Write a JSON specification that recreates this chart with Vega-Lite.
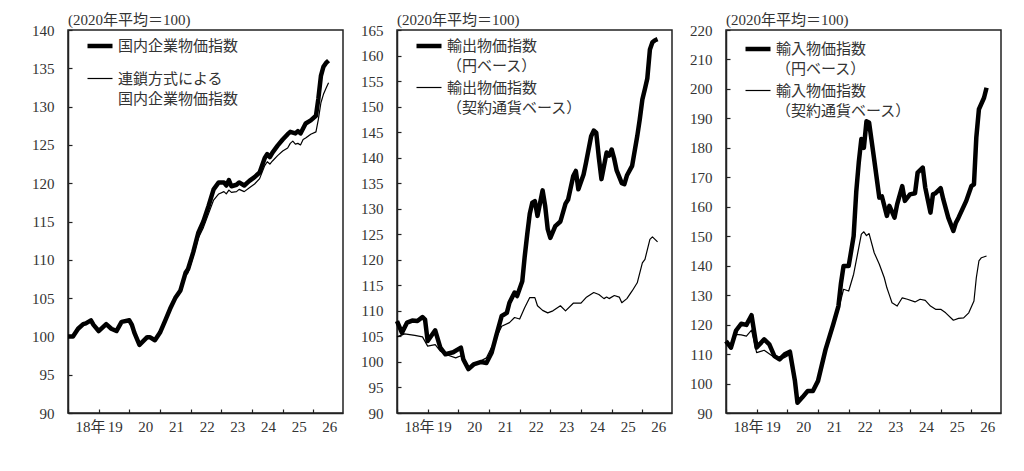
{
  "$schema": "https://vega.github.io/schema/vega-lite/v6.json",
  "background": "white",
  "padding": {"left": 30, "top": 12, "right": 5, "bottom": 5},
  "config": {
    "font": "Liberation Serif, Noto Sans CJK JP",
    "view": {"stroke": "#222", "strokeWidth": 1.5},
    "axis": {
      "grid": false,
      "title": null,
      "domainColor": "#222",
      "domainWidth": 1.5,
      "tickColor": "#222",
      "tickWidth": 1.2,
      "tickSize": -4,
      "labelColor": "#333",
      "labelFont": "Liberation Serif, Noto Sans CJK JP",
      "labelFontSize": 15
    },
    "axisX": {"labelPadding": 10},
    "axisY": {"labelPadding": 18},
    "legend": {
      "title": null,
      "orient": "none",
      "legendX": 17,
      "legendY": 1,
      "symbolType": "stroke",
      "symbolSize": 625,
      "symbolStrokeColor": "black",
      "labelFont": "Liberation Serif, Noto Sans CJK JP",
      "labelFontSize": 15,
      "labelColor": "#333",
      "labelLimit": 300,
      "labelOffset": 3,
      "padding": 0
    },
    "title": {
      "anchor": "start",
      "frame": "group",
      "offset": -5,
      "fontSize": 15,
      "fontWeight": "normal",
      "color": "#333",
      "font": "Liberation Serif, Noto Sans CJK JP"
    },
    "concat": {"spacing": 15}
  },
  "resolve": {
    "scale": {"strokeWidth": "independent", "y": "independent", "x": "independent"},
    "legend": {"strokeWidth": "independent"}
  },
  "datasets": {
    "p1": [
      {"date": "2018-01-01", "series": "国内企業物価指数", "value": 100.0},
      {"date": "2018-03-01", "series": "国内企業物価指数", "value": 100.0},
      {"date": "2018-05-01", "series": "国内企業物価指数", "value": 101.0},
      {"date": "2018-07-01", "series": "国内企業物価指数", "value": 101.6},
      {"date": "2018-08-01", "series": "国内企業物価指数", "value": 101.7},
      {"date": "2018-10-01", "series": "国内企業物価指数", "value": 102.1},
      {"date": "2018-11-01", "series": "国内企業物価指数", "value": 101.5},
      {"date": "2019-01-01", "series": "国内企業物価指数", "value": 100.7},
      {"date": "2019-04-01", "series": "国内企業物価指数", "value": 101.6},
      {"date": "2019-06-01", "series": "国内企業物価指数", "value": 101.0},
      {"date": "2019-08-01", "series": "国内企業物価指数", "value": 100.7},
      {"date": "2019-10-01", "series": "国内企業物価指数", "value": 101.9},
      {"date": "2020-01-01", "series": "国内企業物価指数", "value": 102.1},
      {"date": "2020-02-01", "series": "国内企業物価指数", "value": 101.5},
      {"date": "2020-03-01", "series": "国内企業物価指数", "value": 100.5},
      {"date": "2020-05-01", "series": "国内企業物価指数", "value": 98.9},
      {"date": "2020-08-01", "series": "国内企業物価指数", "value": 99.9},
      {"date": "2020-09-01", "series": "国内企業物価指数", "value": 99.9},
      {"date": "2020-11-01", "series": "国内企業物価指数", "value": 99.5},
      {"date": "2021-01-01", "series": "国内企業物価指数", "value": 100.5},
      {"date": "2021-03-01", "series": "国内企業物価指数", "value": 102.0},
      {"date": "2021-05-01", "series": "国内企業物価指数", "value": 103.6},
      {"date": "2021-07-01", "series": "国内企業物価指数", "value": 105.0},
      {"date": "2021-09-01", "series": "国内企業物価指数", "value": 106.0},
      {"date": "2021-11-01", "series": "国内企業物価指数", "value": 108.3},
      {"date": "2021-12-01", "series": "国内企業物価指数", "value": 108.8},
      {"date": "2022-02-01", "series": "国内企業物価指数", "value": 111.0},
      {"date": "2022-04-01", "series": "国内企業物価指数", "value": 113.5},
      {"date": "2022-06-01", "series": "国内企業物価指数", "value": 115.0},
      {"date": "2022-08-01", "series": "国内企業物価指数", "value": 117.0},
      {"date": "2022-10-01", "series": "国内企業物価指数", "value": 119.2},
      {"date": "2022-12-01", "series": "国内企業物価指数", "value": 120.1},
      {"date": "2023-02-01", "series": "国内企業物価指数", "value": 120.1},
      {"date": "2023-03-01", "series": "国内企業物価指数", "value": 119.7},
      {"date": "2023-04-01", "series": "国内企業物価指数", "value": 120.4},
      {"date": "2023-05-01", "series": "国内企業物価指数", "value": 119.6},
      {"date": "2023-07-01", "series": "国内企業物価指数", "value": 119.8},
      {"date": "2023-08-01", "series": "国内企業物価指数", "value": 120.1},
      {"date": "2023-10-01", "series": "国内企業物価指数", "value": 119.7},
      {"date": "2023-12-01", "series": "国内企業物価指数", "value": 120.3},
      {"date": "2024-02-01", "series": "国内企業物価指数", "value": 120.8},
      {"date": "2024-04-01", "series": "国内企業物価指数", "value": 121.4},
      {"date": "2024-06-01", "series": "国内企業物価指数", "value": 123.3},
      {"date": "2024-07-01", "series": "国内企業物価指数", "value": 123.8},
      {"date": "2024-08-01", "series": "国内企業物価指数", "value": 123.4},
      {"date": "2024-09-01", "series": "国内企業物価指数", "value": 124.0},
      {"date": "2024-11-01", "series": "国内企業物価指数", "value": 124.9},
      {"date": "2025-01-01", "series": "国内企業物価指数", "value": 125.7},
      {"date": "2025-03-01", "series": "国内企業物価指数", "value": 126.4},
      {"date": "2025-04-01", "series": "国内企業物価指数", "value": 126.7},
      {"date": "2025-06-01", "series": "国内企業物価指数", "value": 126.5},
      {"date": "2025-07-01", "series": "国内企業物価指数", "value": 126.8},
      {"date": "2025-08-01", "series": "国内企業物価指数", "value": 126.5},
      {"date": "2025-10-01", "series": "国内企業物価指数", "value": 127.8},
      {"date": "2025-12-01", "series": "国内企業物価指数", "value": 128.2},
      {"date": "2026-02-01", "series": "国内企業物価指数", "value": 128.8},
      {"date": "2026-03-01", "series": "国内企業物価指数", "value": 131.0},
      {"date": "2026-04-01", "series": "国内企業物価指数", "value": 134.0},
      {"date": "2026-05-01", "series": "国内企業物価指数", "value": 135.2},
      {"date": "2026-06-01", "series": "国内企業物価指数", "value": 135.7},
      {"date": "2026-07-01", "series": "国内企業物価指数", "value": 136.0},
      {"date": "2018-01-01", "series": "連鎖方式による|国内企業物価指数", "value": 100.0},
      {"date": "2018-03-01", "series": "連鎖方式による|国内企業物価指数", "value": 100.0},
      {"date": "2018-05-01", "series": "連鎖方式による|国内企業物価指数", "value": 101.0},
      {"date": "2018-07-01", "series": "連鎖方式による|国内企業物価指数", "value": 101.6},
      {"date": "2018-08-01", "series": "連鎖方式による|国内企業物価指数", "value": 101.7},
      {"date": "2018-10-01", "series": "連鎖方式による|国内企業物価指数", "value": 102.1},
      {"date": "2018-11-01", "series": "連鎖方式による|国内企業物価指数", "value": 101.5},
      {"date": "2019-01-01", "series": "連鎖方式による|国内企業物価指数", "value": 100.7},
      {"date": "2019-04-01", "series": "連鎖方式による|国内企業物価指数", "value": 101.6},
      {"date": "2019-06-01", "series": "連鎖方式による|国内企業物価指数", "value": 101.0},
      {"date": "2019-08-01", "series": "連鎖方式による|国内企業物価指数", "value": 100.7},
      {"date": "2019-10-01", "series": "連鎖方式による|国内企業物価指数", "value": 101.9},
      {"date": "2020-01-01", "series": "連鎖方式による|国内企業物価指数", "value": 102.1},
      {"date": "2020-02-01", "series": "連鎖方式による|国内企業物価指数", "value": 101.5},
      {"date": "2020-03-01", "series": "連鎖方式による|国内企業物価指数", "value": 100.5},
      {"date": "2020-05-01", "series": "連鎖方式による|国内企業物価指数", "value": 98.9},
      {"date": "2020-08-01", "series": "連鎖方式による|国内企業物価指数", "value": 99.9},
      {"date": "2020-09-01", "series": "連鎖方式による|国内企業物価指数", "value": 99.9},
      {"date": "2020-11-01", "series": "連鎖方式による|国内企業物価指数", "value": 99.5},
      {"date": "2021-01-01", "series": "連鎖方式による|国内企業物価指数", "value": 100.5},
      {"date": "2021-03-01", "series": "連鎖方式による|国内企業物価指数", "value": 101.9},
      {"date": "2021-05-01", "series": "連鎖方式による|国内企業物価指数", "value": 103.4},
      {"date": "2021-07-01", "series": "連鎖方式による|国内企業物価指数", "value": 104.9},
      {"date": "2021-09-01", "series": "連鎖方式による|国内企業物価指数", "value": 105.8},
      {"date": "2021-11-01", "series": "連鎖方式による|国内企業物価指数", "value": 107.9},
      {"date": "2021-12-01", "series": "連鎖方式による|国内企業物価指数", "value": 108.3},
      {"date": "2022-02-01", "series": "連鎖方式による|国内企業物価指数", "value": 110.5},
      {"date": "2022-04-01", "series": "連鎖方式による|国内企業物価指数", "value": 112.8},
      {"date": "2022-06-01", "series": "連鎖方式による|国内企業物価指数", "value": 114.2},
      {"date": "2022-08-01", "series": "連鎖方式による|国内企業物価指数", "value": 116.0},
      {"date": "2022-10-01", "series": "連鎖方式による|国内企業物価指数", "value": 117.8},
      {"date": "2022-12-01", "series": "連鎖方式による|国内企業物価指数", "value": 118.6},
      {"date": "2023-02-01", "series": "連鎖方式による|国内企業物価指数", "value": 118.9},
      {"date": "2023-03-01", "series": "連鎖方式による|国内企業物価指数", "value": 118.6},
      {"date": "2023-04-01", "series": "連鎖方式による|国内企業物価指数", "value": 119.1},
      {"date": "2023-05-01", "series": "連鎖方式による|国内企業物価指数", "value": 118.8},
      {"date": "2023-07-01", "series": "連鎖方式による|国内企業物価指数", "value": 118.9},
      {"date": "2023-08-01", "series": "連鎖方式による|国内企業物価指数", "value": 119.2},
      {"date": "2023-10-01", "series": "連鎖方式による|国内企業物価指数", "value": 118.9},
      {"date": "2023-12-01", "series": "連鎖方式による|国内企業物価指数", "value": 119.4},
      {"date": "2024-02-01", "series": "連鎖方式による|国内企業物価指数", "value": 119.9},
      {"date": "2024-04-01", "series": "連鎖方式による|国内企業物価指数", "value": 120.6},
      {"date": "2024-06-01", "series": "連鎖方式による|国内企業物価指数", "value": 122.3},
      {"date": "2024-07-01", "series": "連鎖方式による|国内企業物価指数", "value": 122.8},
      {"date": "2024-08-01", "series": "連鎖方式による|国内企業物価指数", "value": 122.5},
      {"date": "2024-09-01", "series": "連鎖方式による|国内企業物価指数", "value": 122.9},
      {"date": "2024-11-01", "series": "連鎖方式による|国内企業物価指数", "value": 123.6},
      {"date": "2025-01-01", "series": "連鎖方式による|国内企業物価指数", "value": 124.2},
      {"date": "2025-03-01", "series": "連鎖方式による|国内企業物価指数", "value": 124.6},
      {"date": "2025-04-01", "series": "連鎖方式による|国内企業物価指数", "value": 125.2},
      {"date": "2025-05-01", "series": "連鎖方式による|国内企業物価指数", "value": 125.5},
      {"date": "2025-06-01", "series": "連鎖方式による|国内企業物価指数", "value": 125.1},
      {"date": "2025-07-01", "series": "連鎖方式による|国内企業物価指数", "value": 125.2},
      {"date": "2025-08-01", "series": "連鎖方式による|国内企業物価指数", "value": 125.0},
      {"date": "2025-09-01", "series": "連鎖方式による|国内企業物価指数", "value": 125.7},
      {"date": "2025-10-01", "series": "連鎖方式による|国内企業物価指数", "value": 125.9},
      {"date": "2025-12-01", "series": "連鎖方式による|国内企業物価指数", "value": 126.4},
      {"date": "2026-02-01", "series": "連鎖方式による|国内企業物価指数", "value": 126.7},
      {"date": "2026-03-01", "series": "連鎖方式による|国内企業物価指数", "value": 128.3},
      {"date": "2026-04-01", "series": "連鎖方式による|国内企業物価指数", "value": 130.5},
      {"date": "2026-05-01", "series": "連鎖方式による|国内企業物価指数", "value": 131.6},
      {"date": "2026-06-01", "series": "連鎖方式による|国内企業物価指数", "value": 132.4},
      {"date": "2026-07-01", "series": "連鎖方式による|国内企業物価指数", "value": 133.1}
    ],
    "p2": [
      {"date": "2018-01-01", "series": "輸出物価指数|（円ベース）", "value": 108.0},
      {"date": "2018-03-01", "series": "輸出物価指数|（円ベース）", "value": 105.7},
      {"date": "2018-05-01", "series": "輸出物価指数|（円ベース）", "value": 107.7},
      {"date": "2018-07-01", "series": "輸出物価指数|（円ベース）", "value": 108.1},
      {"date": "2018-09-01", "series": "輸出物価指数|（円ベース）", "value": 108.0},
      {"date": "2018-11-01", "series": "輸出物価指数|（円ベース）", "value": 108.8},
      {"date": "2018-12-01", "series": "輸出物価指数|（円ベース）", "value": 108.3},
      {"date": "2019-01-01", "series": "輸出物価指数|（円ベース）", "value": 104.1},
      {"date": "2019-04-01", "series": "輸出物価指数|（円ベース）", "value": 106.2},
      {"date": "2019-06-01", "series": "輸出物価指数|（円ベース）", "value": 102.8},
      {"date": "2019-08-01", "series": "輸出物価指数|（円ベース）", "value": 101.5},
      {"date": "2019-11-01", "series": "輸出物価指数|（円ベース）", "value": 101.9},
      {"date": "2020-02-01", "series": "輸出物価指数|（円ベース）", "value": 102.8},
      {"date": "2020-03-01", "series": "輸出物価指数|（円ベース）", "value": 100.5},
      {"date": "2020-05-01", "series": "輸出物価指数|（円ベース）", "value": 98.6},
      {"date": "2020-07-01", "series": "輸出物価指数|（円ベース）", "value": 99.5},
      {"date": "2020-10-01", "series": "輸出物価指数|（円ベース）", "value": 100.0},
      {"date": "2020-12-01", "series": "輸出物価指数|（円ベース）", "value": 99.8},
      {"date": "2021-02-01", "series": "輸出物価指数|（円ベース）", "value": 101.8},
      {"date": "2021-04-01", "series": "輸出物価指数|（円ベース）", "value": 105.4},
      {"date": "2021-06-01", "series": "輸出物価指数|（円ベース）", "value": 109.0},
      {"date": "2021-08-01", "series": "輸出物価指数|（円ベース）", "value": 109.6},
      {"date": "2021-09-01", "series": "輸出物価指数|（円ベース）", "value": 111.6},
      {"date": "2021-11-01", "series": "輸出物価指数|（円ベース）", "value": 113.6},
      {"date": "2021-12-01", "series": "輸出物価指数|（円ベース）", "value": 112.9},
      {"date": "2022-02-01", "series": "輸出物価指数|（円ベース）", "value": 115.8},
      {"date": "2022-03-01", "series": "輸出物価指数|（円ベース）", "value": 120.5},
      {"date": "2022-04-01", "series": "輸出物価指数|（円ベース）", "value": 125.0},
      {"date": "2022-05-01", "series": "輸出物価指数|（円ベース）", "value": 129.0},
      {"date": "2022-06-01", "series": "輸出物価指数|（円ベース）", "value": 131.2},
      {"date": "2022-07-01", "series": "輸出物価指数|（円ベース）", "value": 131.5},
      {"date": "2022-08-01", "series": "輸出物価指数|（円ベース）", "value": 128.6},
      {"date": "2022-10-01", "series": "輸出物価指数|（円ベース）", "value": 133.6},
      {"date": "2022-11-01", "series": "輸出物価指数|（円ベース）", "value": 130.5},
      {"date": "2022-12-01", "series": "輸出物価指数|（円ベース）", "value": 126.0},
      {"date": "2023-01-01", "series": "輸出物価指数|（円ベース）", "value": 124.3},
      {"date": "2023-03-01", "series": "輸出物価指数|（円ベース）", "value": 126.6},
      {"date": "2023-05-01", "series": "輸出物価指数|（円ベース）", "value": 127.5},
      {"date": "2023-07-01", "series": "輸出物価指数|（円ベース）", "value": 131.0},
      {"date": "2023-08-01", "series": "輸出物価指数|（円ベース）", "value": 131.8},
      {"date": "2023-10-01", "series": "輸出物価指数|（円ベース）", "value": 136.4},
      {"date": "2023-11-01", "series": "輸出物価指数|（円ベース）", "value": 137.4},
      {"date": "2023-12-01", "series": "輸出物価指数|（円ベース）", "value": 133.8},
      {"date": "2024-02-01", "series": "輸出物価指数|（円ベース）", "value": 136.7},
      {"date": "2024-03-01", "series": "輸出物価指数|（円ベース）", "value": 139.0},
      {"date": "2024-05-01", "series": "輸出物価指数|（円ベース）", "value": 144.2},
      {"date": "2024-06-01", "series": "輸出物価指数|（円ベース）", "value": 145.3},
      {"date": "2024-07-01", "series": "輸出物価指数|（円ベース）", "value": 144.9},
      {"date": "2024-08-01", "series": "輸出物価指数|（円ベース）", "value": 140.0},
      {"date": "2024-09-01", "series": "輸出物価指数|（円ベース）", "value": 135.8},
      {"date": "2024-11-01", "series": "輸出物価指数|（円ベース）", "value": 141.0},
      {"date": "2024-12-01", "series": "輸出物価指数|（円ベース）", "value": 140.4},
      {"date": "2025-01-01", "series": "輸出物価指数|（円ベース）", "value": 141.6},
      {"date": "2025-02-01", "series": "輸出物価指数|（円ベース）", "value": 139.7},
      {"date": "2025-03-01", "series": "輸出物価指数|（円ベース）", "value": 137.5},
      {"date": "2025-05-01", "series": "輸出物価指数|（円ベース）", "value": 135.0},
      {"date": "2025-06-01", "series": "輸出物価指数|（円ベース）", "value": 134.8},
      {"date": "2025-07-01", "series": "輸出物価指数|（円ベース）", "value": 136.5},
      {"date": "2025-09-01", "series": "輸出物価指数|（円ベース）", "value": 138.4},
      {"date": "2025-11-01", "series": "輸出物価指数|（円ベース）", "value": 144.2},
      {"date": "2025-12-01", "series": "輸出物価指数|（円ベース）", "value": 147.5},
      {"date": "2026-01-01", "series": "輸出物価指数|（円ベース）", "value": 151.4},
      {"date": "2026-02-01", "series": "輸出物価指数|（円ベース）", "value": 153.5},
      {"date": "2026-03-01", "series": "輸出物価指数|（円ベース）", "value": 155.5},
      {"date": "2026-04-01", "series": "輸出物価指数|（円ベース）", "value": 161.2},
      {"date": "2026-05-01", "series": "輸出物価指数|（円ベース）", "value": 162.6},
      {"date": "2026-06-01", "series": "輸出物価指数|（円ベース）", "value": 163.0},
      {"date": "2026-07-01", "series": "輸出物価指数|（円ベース）", "value": 163.2},
      {"date": "2018-01-01", "series": "輸出物価指数|（契約通貨ベース）", "value": 104.9},
      {"date": "2018-04-01", "series": "輸出物価指数|（契約通貨ベース）", "value": 105.5},
      {"date": "2018-08-01", "series": "輸出物価指数|（契約通貨ベース）", "value": 105.2},
      {"date": "2018-11-01", "series": "輸出物価指数|（契約通貨ベース）", "value": 104.9},
      {"date": "2019-01-01", "series": "輸出物価指数|（契約通貨ベース）", "value": 103.1},
      {"date": "2019-04-01", "series": "輸出物価指数|（契約通貨ベース）", "value": 103.4},
      {"date": "2019-06-01", "series": "輸出物価指数|（契約通貨ベース）", "value": 102.1},
      {"date": "2019-09-01", "series": "輸出物価指数|（契約通貨ベース）", "value": 101.3},
      {"date": "2019-12-01", "series": "輸出物価指数|（契約通貨ベース）", "value": 100.8},
      {"date": "2020-02-01", "series": "輸出物価指数|（契約通貨ベース）", "value": 101.2},
      {"date": "2020-05-01", "series": "輸出物価指数|（契約通貨ベース）", "value": 98.9},
      {"date": "2020-09-01", "series": "輸出物価指数|（契約通貨ベース）", "value": 100.0},
      {"date": "2020-12-01", "series": "輸出物価指数|（契約通貨ベース）", "value": 100.8},
      {"date": "2021-03-01", "series": "輸出物価指数|（契約通貨ベース）", "value": 103.8},
      {"date": "2021-06-01", "series": "輸出物価指数|（契約通貨ベース）", "value": 107.0},
      {"date": "2021-09-01", "series": "輸出物価指数|（契約通貨ベース）", "value": 107.7},
      {"date": "2021-11-01", "series": "輸出物価指数|（契約通貨ベース）", "value": 108.7},
      {"date": "2022-01-01", "series": "輸出物価指数|（契約通貨ベース）", "value": 108.4},
      {"date": "2022-03-01", "series": "輸出物価指数|（契約通貨ベース）", "value": 110.6},
      {"date": "2022-05-01", "series": "輸出物価指数|（契約通貨ベース）", "value": 112.6},
      {"date": "2022-07-01", "series": "輸出物価指数|（契約通貨ベース）", "value": 112.6},
      {"date": "2022-08-01", "series": "輸出物価指数|（契約通貨ベース）", "value": 111.0},
      {"date": "2022-10-01", "series": "輸出物価指数|（契約通貨ベース）", "value": 110.1},
      {"date": "2022-12-01", "series": "輸出物価指数|（契約通貨ベース）", "value": 109.6},
      {"date": "2023-02-01", "series": "輸出物価指数|（契約通貨ベース）", "value": 110.0},
      {"date": "2023-05-01", "series": "輸出物価指数|（契約通貨ベース）", "value": 111.0},
      {"date": "2023-07-01", "series": "輸出物価指数|（契約通貨ベース）", "value": 110.0},
      {"date": "2023-10-01", "series": "輸出物価指数|（契約通貨ベース）", "value": 111.5},
      {"date": "2024-01-01", "series": "輸出物価指数|（契約通貨ベース）", "value": 111.5},
      {"date": "2024-03-01", "series": "輸出物価指数|（契約通貨ベース）", "value": 112.6},
      {"date": "2024-06-01", "series": "輸出物価指数|（契約通貨ベース）", "value": 113.6},
      {"date": "2024-08-01", "series": "輸出物価指数|（契約通貨ベース）", "value": 113.2},
      {"date": "2024-10-01", "series": "輸出物価指数|（契約通貨ベース）", "value": 112.4},
      {"date": "2024-11-01", "series": "輸出物価指数|（契約通貨ベース）", "value": 112.7},
      {"date": "2024-12-01", "series": "輸出物価指数|（契約通貨ベース）", "value": 112.4},
      {"date": "2025-02-01", "series": "輸出物価指数|（契約通貨ベース）", "value": 113.0},
      {"date": "2025-04-01", "series": "輸出物価指数|（契約通貨ベース）", "value": 112.7},
      {"date": "2025-05-01", "series": "輸出物価指数|（契約通貨ベース）", "value": 111.6},
      {"date": "2025-07-01", "series": "輸出物価指数|（契約通貨ベース）", "value": 112.4},
      {"date": "2025-09-01", "series": "輸出物価指数|（契約通貨ベース）", "value": 113.9},
      {"date": "2025-11-01", "series": "輸出物価指数|（契約通貨ベース）", "value": 115.5},
      {"date": "2026-01-01", "series": "輸出物価指数|（契約通貨ベース）", "value": 119.4},
      {"date": "2026-02-01", "series": "輸出物価指数|（契約通貨ベース）", "value": 120.1},
      {"date": "2026-04-01", "series": "輸出物価指数|（契約通貨ベース）", "value": 124.0},
      {"date": "2026-05-01", "series": "輸出物価指数|（契約通貨ベース）", "value": 124.5},
      {"date": "2026-07-01", "series": "輸出物価指数|（契約通貨ベース）", "value": 123.5}
    ],
    "p3": [
      {"date": "2018-01-01", "series": "輸入物価指数|（円ベース）", "value": 114.4},
      {"date": "2018-03-01", "series": "輸入物価指数|（円ベース）", "value": 112.2},
      {"date": "2018-05-01", "series": "輸入物価指数|（円ベース）", "value": 118.0},
      {"date": "2018-07-01", "series": "輸入物価指数|（円ベース）", "value": 120.3},
      {"date": "2018-09-01", "series": "輸入物価指数|（円ベース）", "value": 119.9},
      {"date": "2018-11-01", "series": "輸入物価指数|（円ベース）", "value": 123.2},
      {"date": "2019-01-01", "series": "輸入物価指数|（円ベース）", "value": 112.2},
      {"date": "2019-04-01", "series": "輸入物価指数|（円ベース）", "value": 115.0},
      {"date": "2019-06-01", "series": "輸入物価指数|（円ベース）", "value": 113.3},
      {"date": "2019-08-01", "series": "輸入物価指数|（円ベース）", "value": 109.3},
      {"date": "2019-10-01", "series": "輸入物価指数|（円ベース）", "value": 108.2},
      {"date": "2019-12-01", "series": "輸入物価指数|（円ベース）", "value": 109.9},
      {"date": "2020-02-01", "series": "輸入物価指数|（円ベース）", "value": 110.8},
      {"date": "2020-04-01", "series": "輸入物価指数|（円ベース）", "value": 100.9},
      {"date": "2020-05-01", "series": "輸入物価指数|（円ベース）", "value": 93.5},
      {"date": "2020-07-01", "series": "輸入物価指数|（円ベース）", "value": 95.4},
      {"date": "2020-09-01", "series": "輸入物価指数|（円ベース）", "value": 97.5},
      {"date": "2020-11-01", "series": "輸入物価指数|（円ベース）", "value": 97.5},
      {"date": "2021-01-01", "series": "輸入物価指数|（円ベース）", "value": 100.9},
      {"date": "2021-04-01", "series": "輸入物価指数|（円ベース）", "value": 111.6},
      {"date": "2021-07-01", "series": "輸入物価指数|（円ベース）", "value": 120.1},
      {"date": "2021-09-01", "series": "輸入物価指数|（円ベース）", "value": 126.3},
      {"date": "2021-10-01", "series": "輸入物価指数|（円ベース）", "value": 134.0},
      {"date": "2021-11-01", "series": "輸入物価指数|（円ベース）", "value": 139.9},
      {"date": "2022-01-01", "series": "輸入物価指数|（円ベース）", "value": 139.9},
      {"date": "2022-03-01", "series": "輸入物価指数|（円ベース）", "value": 150.0},
      {"date": "2022-04-01", "series": "輸入物価指数|（円ベース）", "value": 165.0},
      {"date": "2022-05-01", "series": "輸入物価指数|（円ベース）", "value": 175.0},
      {"date": "2022-06-01", "series": "輸入物価指数|（円ベース）", "value": 183.0},
      {"date": "2022-07-01", "series": "輸入物価指数|（円ベース）", "value": 180.0},
      {"date": "2022-08-01", "series": "輸入物価指数|（円ベース）", "value": 189.0},
      {"date": "2022-09-01", "series": "輸入物価指数|（円ベース）", "value": 188.6},
      {"date": "2022-11-01", "series": "輸入物価指数|（円ベース）", "value": 176.0},
      {"date": "2023-01-01", "series": "輸入物価指数|（円ベース）", "value": 163.1},
      {"date": "2023-02-01", "series": "輸入物価指数|（円ベース）", "value": 163.5},
      {"date": "2023-04-01", "series": "輸入物価指数|（円ベース）", "value": 156.9},
      {"date": "2023-05-01", "series": "輸入物価指数|（円ベース）", "value": 160.3},
      {"date": "2023-07-01", "series": "輸入物価指数|（円ベース）", "value": 156.3},
      {"date": "2023-08-01", "series": "輸入物価指数|（円ベース）", "value": 160.8},
      {"date": "2023-10-01", "series": "輸入物価指数|（円ベース）", "value": 167.0},
      {"date": "2023-11-01", "series": "輸入物価指数|（円ベース）", "value": 162.0},
      {"date": "2024-01-01", "series": "輸入物価指数|（円ベース）", "value": 164.2},
      {"date": "2024-03-01", "series": "輸入物価指数|（円ベース）", "value": 164.6},
      {"date": "2024-04-01", "series": "輸入物価指数|（円ベース）", "value": 171.6},
      {"date": "2024-06-01", "series": "輸入物価指数|（円ベース）", "value": 173.3},
      {"date": "2024-07-01", "series": "輸入物価指数|（円ベース）", "value": 166.5},
      {"date": "2024-09-01", "series": "輸入物価指数|（円ベース）", "value": 158.0},
      {"date": "2024-10-01", "series": "輸入物価指数|（円ベース）", "value": 164.2},
      {"date": "2024-11-01", "series": "輸入物価指数|（円ベース）", "value": 164.6},
      {"date": "2025-01-01", "series": "輸入物価指数|（円ベース）", "value": 166.3},
      {"date": "2025-02-01", "series": "輸入物価指数|（円ベース）", "value": 162.5},
      {"date": "2025-04-01", "series": "輸入物価指数|（円ベース）", "value": 156.3},
      {"date": "2025-06-01", "series": "輸入物価指数|（円ベース）", "value": 151.8},
      {"date": "2025-07-01", "series": "輸入物価指数|（円ベース）", "value": 154.6},
      {"date": "2025-08-01", "series": "輸入物価指数|（円ベース）", "value": 156.3},
      {"date": "2025-11-01", "series": "輸入物価指数|（円ベース）", "value": 162.0},
      {"date": "2026-01-01", "series": "輸入物価指数|（円ベース）", "value": 167.0},
      {"date": "2026-02-01", "series": "輸入物価指数|（円ベース）", "value": 167.6},
      {"date": "2026-03-01", "series": "輸入物価指数|（円ベース）", "value": 183.5},
      {"date": "2026-04-01", "series": "輸入物価指数|（円ベース）", "value": 193.1},
      {"date": "2026-06-01", "series": "輸入物価指数|（円ベース）", "value": 197.0},
      {"date": "2026-07-01", "series": "輸入物価指数|（円ベース）", "value": 200.4},
      {"date": "2018-01-01", "series": "輸入物価指数|（契約通貨ベース）", "value": 113.3},
      {"date": "2018-03-01", "series": "輸入物価指数|（契約通貨ベース）", "value": 112.5},
      {"date": "2018-05-01", "series": "輸入物価指数|（契約通貨ベース）", "value": 116.7},
      {"date": "2018-07-01", "series": "輸入物価指数|（契約通貨ベース）", "value": 116.5},
      {"date": "2018-09-01", "series": "輸入物価指数|（契約通貨ベース）", "value": 116.1},
      {"date": "2018-11-01", "series": "輸入物価指数|（契約通貨ベース）", "value": 118.1},
      {"date": "2019-01-01", "series": "輸入物価指数|（契約通貨ベース）", "value": 110.5},
      {"date": "2019-04-01", "series": "輸入物価指数|（契約通貨ベース）", "value": 111.3},
      {"date": "2019-08-01", "series": "輸入物価指数|（契約通貨ベース）", "value": 108.8},
      {"date": "2019-12-01", "series": "輸入物価指数|（契約通貨ベース）", "value": 108.8},
      {"date": "2020-02-01", "series": "輸入物価指数|（契約通貨ベース）", "value": 109.9},
      {"date": "2020-04-01", "series": "輸入物価指数|（契約通貨ベース）", "value": 100.5},
      {"date": "2020-05-01", "series": "輸入物価指数|（契約通貨ベース）", "value": 94.0},
      {"date": "2020-07-01", "series": "輸入物価指数|（契約通貨ベース）", "value": 95.8},
      {"date": "2020-09-01", "series": "輸入物価指数|（契約通貨ベース）", "value": 97.8},
      {"date": "2020-11-01", "series": "輸入物価指数|（契約通貨ベース）", "value": 97.6},
      {"date": "2021-01-01", "series": "輸入物価指数|（契約通貨ベース）", "value": 100.5},
      {"date": "2021-04-01", "series": "輸入物価指数|（契約通貨ベース）", "value": 110.5},
      {"date": "2021-07-01", "series": "輸入物価指数|（契約通貨ベース）", "value": 119.0},
      {"date": "2021-09-01", "series": "輸入物価指数|（契約通貨ベース）", "value": 125.0},
      {"date": "2021-11-01", "series": "輸入物価指数|（契約通貨ベース）", "value": 132.0},
      {"date": "2022-01-01", "series": "輸入物価指数|（契約通貨ベース）", "value": 131.4},
      {"date": "2022-03-01", "series": "輸入物価指数|（契約通貨ベース）", "value": 137.1},
      {"date": "2022-05-01", "series": "輸入物価指数|（契約通貨ベース）", "value": 146.1},
      {"date": "2022-06-01", "series": "輸入物価指数|（契約通貨ベース）", "value": 150.7},
      {"date": "2022-07-01", "series": "輸入物価指数|（契約通貨ベース）", "value": 151.5},
      {"date": "2022-08-01", "series": "輸入物価指数|（契約通貨ベース）", "value": 150.2},
      {"date": "2022-09-01", "series": "輸入物価指数|（契約通貨ベース）", "value": 150.9},
      {"date": "2022-11-01", "series": "輸入物価指数|（契約通貨ベース）", "value": 144.4},
      {"date": "2023-01-01", "series": "輸入物価指数|（契約通貨ベース）", "value": 140.5},
      {"date": "2023-03-01", "series": "輸入物価指数|（契約通貨ベース）", "value": 135.9},
      {"date": "2023-04-01", "series": "輸入物価指数|（契約通貨ベース）", "value": 132.5},
      {"date": "2023-05-01", "series": "輸入物価指数|（契約通貨ベース）", "value": 130.0},
      {"date": "2023-06-01", "series": "輸入物価指数|（契約通貨ベース）", "value": 127.4},
      {"date": "2023-08-01", "series": "輸入物価指数|（契約通貨ベース）", "value": 126.3},
      {"date": "2023-10-01", "series": "輸入物価指数|（契約通貨ベース）", "value": 129.1},
      {"date": "2023-12-01", "series": "輸入物価指数|（契約通貨ベース）", "value": 128.6},
      {"date": "2024-03-01", "series": "輸入物価指数|（契約通貨ベース）", "value": 127.7},
      {"date": "2024-05-01", "series": "輸入物価指数|（契約通貨ベース）", "value": 128.6},
      {"date": "2024-07-01", "series": "輸入物価指数|（契約通貨ベース）", "value": 128.2},
      {"date": "2024-09-01", "series": "輸入物価指数|（契約通貨ベース）", "value": 126.3},
      {"date": "2024-11-01", "series": "輸入物価指数|（契約通貨ベース）", "value": 125.2},
      {"date": "2025-01-01", "series": "輸入物価指数|（契約通貨ベース）", "value": 125.2},
      {"date": "2025-03-01", "series": "輸入物価指数|（契約通貨ベース）", "value": 124.0},
      {"date": "2025-06-01", "series": "輸入物価指数|（契約通貨ベース）", "value": 121.5},
      {"date": "2025-08-01", "series": "輸入物価指数|（契約通貨ベース）", "value": 122.1},
      {"date": "2025-10-01", "series": "輸入物価指数|（契約通貨ベース）", "value": 122.3},
      {"date": "2025-12-01", "series": "輸入物価指数|（契約通貨ベース）", "value": 124.0},
      {"date": "2026-02-01", "series": "輸入物価指数|（契約通貨ベース）", "value": 128.0},
      {"date": "2026-03-01", "series": "輸入物価指数|（契約通貨ベース）", "value": 135.9},
      {"date": "2026-04-01", "series": "輸入物価指数|（契約通貨ベース）", "value": 141.6},
      {"date": "2026-05-01", "series": "輸入物価指数|（契約通貨ベース）", "value": 142.7},
      {"date": "2026-07-01", "series": "輸入物価指数|（契約通貨ベース）", "value": 143.3}
    ]
  },
  "hconcat": [
    {
      "width": 275,
      "height": 383,
      "title": "(2020年平均＝100)",
      "data": {"name": "p1"},
      "mark": {"type": "line", "stroke": "black", "strokeJoin": "round"},
      "encoding": {
        "x": {
          "field": "date",
          "type": "temporal",
          "scale": {"type": "utc", "domain": [{"year": 2018, "month": 1, "date": 1, "utc": true}, {"year": 2026, "month": 12, "date": 20, "utc": true}]},
          "axis": {
            "values": [
              {"year": 2018, "month": 1, "date": 1, "utc": true},
              {"year": 2019, "month": 1, "date": 1, "utc": true},
              {"year": 2020, "month": 1, "date": 1, "utc": true},
              {"year": 2021, "month": 1, "date": 1, "utc": true},
              {"year": 2022, "month": 1, "date": 1, "utc": true},
              {"year": 2023, "month": 1, "date": 1, "utc": true},
              {"year": 2024, "month": 1, "date": 1, "utc": true},
              {"year": 2025, "month": 1, "date": 1, "utc": true},
              {"year": 2026, "month": 1, "date": 1, "utc": true}
            ],
            "labelExpr": "utcyear(datum.value) == 2018 ? '18年' : utcFormat(datum.value, '%y')",
            "labelOffset": {"condition": {"test": "utcyear(datum.value) == 2018", "value": 22}, "value": 16},
            "labelFlush": false,
            "labelOverlap": false,
            "labelBound": false
          }
        },
        "y": {
          "field": "value",
          "type": "quantitative",
          "scale": {"domain": [90, 140], "nice": false, "zero": false},
          "axis": {"values": [90, 95, 100, 105, 110, 115, 120, 125, 130, 135, 140]}
        },
        "strokeWidth": {
          "field": "series",
          "type": "nominal",
          "scale": {"type": "ordinal", "domain": ["国内企業物価指数", "連鎖方式による|国内企業物価指数"], "range": [4.5, 1.2]},
          "legend": {
            "labelExpr": "split(datum.label, '|')",
            "rowPadding": 10,
            "encode": {"labels": {"update": {"lineHeight": {"value": 20}}}}
          }
        }
      }
    },
    {
      "width": 275,
      "height": 383,
      "title": "(2020年平均＝100)",
      "data": {"name": "p2"},
      "mark": {"type": "line", "stroke": "black", "strokeJoin": "round"},
      "encoding": {
        "x": {
          "field": "date",
          "type": "temporal",
          "scale": {"type": "utc", "domain": [{"year": 2018, "month": 1, "date": 1, "utc": true}, {"year": 2026, "month": 12, "date": 20, "utc": true}]},
          "axis": {
            "values": [
              {"year": 2018, "month": 1, "date": 1, "utc": true},
              {"year": 2019, "month": 1, "date": 1, "utc": true},
              {"year": 2020, "month": 1, "date": 1, "utc": true},
              {"year": 2021, "month": 1, "date": 1, "utc": true},
              {"year": 2022, "month": 1, "date": 1, "utc": true},
              {"year": 2023, "month": 1, "date": 1, "utc": true},
              {"year": 2024, "month": 1, "date": 1, "utc": true},
              {"year": 2025, "month": 1, "date": 1, "utc": true},
              {"year": 2026, "month": 1, "date": 1, "utc": true}
            ],
            "labelExpr": "utcyear(datum.value) == 2018 ? '18年' : utcFormat(datum.value, '%y')",
            "labelOffset": {"condition": {"test": "utcyear(datum.value) == 2018", "value": 22}, "value": 16},
            "labelFlush": false,
            "labelOverlap": false,
            "labelBound": false
          }
        },
        "y": {
          "field": "value",
          "type": "quantitative",
          "scale": {"domain": [90, 165], "nice": false, "zero": false},
          "axis": {"values": [90, 95, 100, 105, 110, 115, 120, 125, 130, 135, 140, 145, 150, 155, 160, 165]}
        },
        "strokeWidth": {
          "field": "series",
          "type": "nominal",
          "scale": {"type": "ordinal", "domain": ["輸出物価指数|（円ベース）", "輸出物価指数|（契約通貨ベース）"], "range": [4.5, 1.2]},
          "legend": {
            "labelExpr": "split(datum.label, '|')",
            "rowPadding": -2,
            "encode": {"labels": {"update": {"lineHeight": {"value": 20}}}}
          }
        }
      }
    },
    {
      "width": 275,
      "height": 383,
      "title": "(2020年平均＝100)",
      "data": {"name": "p3"},
      "mark": {"type": "line", "stroke": "black", "strokeJoin": "round"},
      "encoding": {
        "x": {
          "field": "date",
          "type": "temporal",
          "scale": {"type": "utc", "domain": [{"year": 2018, "month": 1, "date": 1, "utc": true}, {"year": 2026, "month": 12, "date": 20, "utc": true}]},
          "axis": {
            "values": [
              {"year": 2018, "month": 1, "date": 1, "utc": true},
              {"year": 2019, "month": 1, "date": 1, "utc": true},
              {"year": 2020, "month": 1, "date": 1, "utc": true},
              {"year": 2021, "month": 1, "date": 1, "utc": true},
              {"year": 2022, "month": 1, "date": 1, "utc": true},
              {"year": 2023, "month": 1, "date": 1, "utc": true},
              {"year": 2024, "month": 1, "date": 1, "utc": true},
              {"year": 2025, "month": 1, "date": 1, "utc": true},
              {"year": 2026, "month": 1, "date": 1, "utc": true}
            ],
            "labelExpr": "utcyear(datum.value) == 2018 ? '18年' : utcFormat(datum.value, '%y')",
            "labelOffset": {"condition": {"test": "utcyear(datum.value) == 2018", "value": 22}, "value": 16},
            "labelFlush": false,
            "labelOverlap": false,
            "labelBound": false
          }
        },
        "y": {
          "field": "value",
          "type": "quantitative",
          "scale": {"domain": [90, 220], "nice": false, "zero": false},
          "axis": {"values": [90, 100, 110, 120, 130, 140, 150, 160, 170, 180, 190, 200, 210, 220]}
        },
        "strokeWidth": {
          "field": "series",
          "type": "nominal",
          "scale": {"type": "ordinal", "domain": ["輸入物価指数|（円ベース）", "輸入物価指数|（契約通貨ベース）"], "range": [4.5, 1.2]},
          "legend": {
            "labelExpr": "split(datum.label, '|')",
            "legendY": 4,
            "rowPadding": -2,
            "encode": {"labels": {"update": {"lineHeight": {"value": 20}}}}
          }
        }
      }
    }
  ]
}
